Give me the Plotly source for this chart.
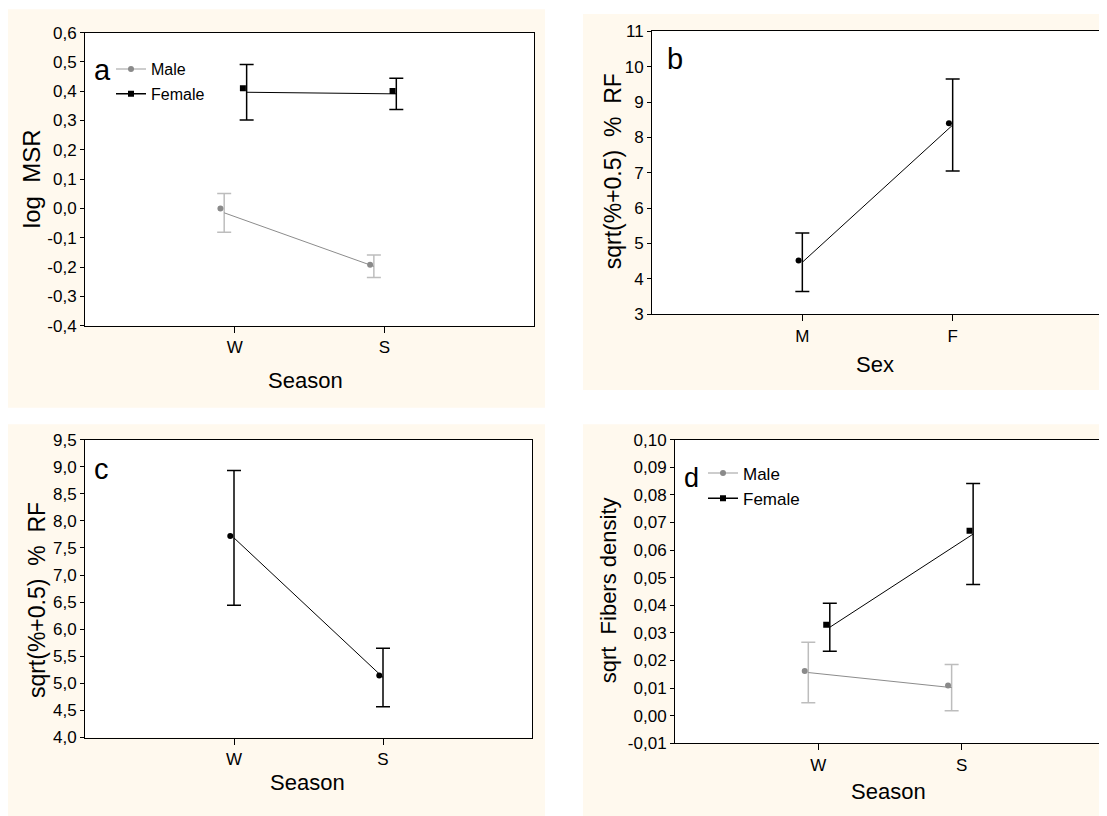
import plotly.graph_objects as go

# ---------------- data ----------------
season_labels = ["W", "S"]
sex_labels = ["M", "F"]

# panel a : log MSR
a_male_mean = [0.000, -0.192]
a_male_lo = [-0.081, -0.236]
a_male_hi = [0.051, -0.159]
a_fem_mean = [0.410, 0.401]
a_fem_lo = [0.302, 0.338]
a_fem_hi = [0.491, 0.444]
a_yticks = [0.6, 0.5, 0.4, 0.3, 0.2, 0.1, 0.0, -0.1, -0.2, -0.3, -0.4]
a_yticktext = ["0,6", "0,5", "0,4", "0,3", "0,2", "0,1", "0,0", "-0,1", "-0,2", "-0,3", "-0,4"]

# panel b : sqrt(%+0.5) % RF by sex
b_mean = [4.52, 8.40]
b_lo = [3.64, 7.05]
b_hi = [5.30, 9.65]
b_yticks = [3, 4, 5, 6, 7, 8, 9, 10, 11]
b_yticktext = ["3", "4", "5", "6", "7", "8", "9", "10", "11"]

# panel c : sqrt(%+0.5) % RF by season
c_mean = [7.72, 5.145]
c_lo = [6.44, 4.57]
c_hi = [8.93, 5.65]
c_yticks = [4.0, 4.5, 5.0, 5.5, 6.0, 6.5, 7.0, 7.5, 8.0, 8.5, 9.0, 9.5]
c_yticktext = ["4,0", "4,5", "5,0", "5,5", "6,0", "6,5", "7,0", "7,5", "8,0", "8,5", "9,0", "9,5"]

# panel d : sqrt Fibers density
d_male_mean = [0.0162, 0.0110]
d_male_lo = [0.0047, 0.0018]
d_male_hi = [0.0266, 0.0186]
d_fem_mean = [0.0330, 0.0670]
d_fem_lo = [0.0234, 0.0475]
d_fem_hi = [0.0407, 0.0841]
d_yticks = [-0.01, 0.0, 0.01, 0.02, 0.03, 0.04, 0.05, 0.06, 0.07, 0.08, 0.09, 0.10]
d_yticktext = ["-0,01", "0,00", "0,01", "0,02", "0,03", "0,04", "0,05", "0,06", "0,07", "0,08", "0,09", "0,10"]

# ---------------- style ----------------
W, H = 1107, 816
OX, OY = 8, 8          # page body margin: figure starts 8px in from the window corner
FONT = "Liberation Sans, Arial, sans-serif"
CREAM = "#fff9ee"
MALE_LINE = "#8c8c8c"
MALE_ERR = "#bdbdbd"
MALE_MARK = "#8a8a8a"
BLACK = "#000000"
MALE_OFF = -0.07
FEM_OFF = 0.08
MARK_SHIFT = -0.025

fig = go.Figure()


def mid(lo, hi):
    return [(l + h) / 2 for l, h in zip(lo, hi)]


def add_series(xa, ya, cats, off, mean, lo, hi, line_col, err_col, mark_col, symbol):
    xs = [i + 1 + off for i in range(len(cats))]
    m = mid(lo, hi)
    fig.add_trace(go.Scatter(
        x=xs, y=m, mode="lines", xaxis=xa, yaxis=ya, showlegend=False,
        line=dict(color=line_col, width=1),
        error_y=dict(type="data", symmetric=False,
                     array=[h - c for h, c in zip(hi, m)],
                     arrayminus=[c - l for l, c in zip(lo, m)],
                     color=err_col, thickness=1.5, width=7),
        hoverinfo="skip"))
    fig.add_trace(go.Scatter(
        x=[x + MARK_SHIFT for x in xs], y=mean, mode="markers", xaxis=xa, yaxis=ya,
        showlegend=False, marker=dict(color=mark_col, size=6, symbol=symbol)))


# panel a
add_series("x", "y", season_labels, MALE_OFF, a_male_mean, a_male_lo, a_male_hi,
           MALE_LINE, MALE_ERR, MALE_MARK, "circle")
add_series("x", "y", season_labels, FEM_OFF, a_fem_mean, a_fem_lo, a_fem_hi,
           BLACK, BLACK, BLACK, "square")
# panel b
add_series("x2", "y2", sex_labels, 0.0, b_mean, b_lo, b_hi, BLACK, BLACK, BLACK, "circle")
# panel c
add_series("x3", "y3", season_labels, 0.0, c_mean, c_lo, c_hi, BLACK, BLACK, BLACK, "circle")
# panel d
add_series("x4", "y4", season_labels, MALE_OFF, d_male_mean, d_male_lo, d_male_hi,
           MALE_LINE, MALE_ERR, MALE_MARK, "circle")
add_series("x4", "y4", season_labels, FEM_OFF, d_fem_mean, d_fem_lo, d_fem_hi,
           BLACK, BLACK, BLACK, "square")

# legend entries
for lg, xa, ya in (("legend", "x", "y"), ("legend2", "x4", "y4")):
    fig.add_trace(go.Scatter(x=[None], y=[None], mode="lines+markers", name="Male",
                             xaxis=xa, yaxis=ya, legend=lg, legendgroup=lg + "m",
                             line=dict(color=MALE_ERR, width=1.5),
                             marker=dict(color=MALE_MARK, size=6, symbol="circle")))
    fig.add_trace(go.Scatter(x=[None], y=[None], mode="lines+markers", name="Female",
                             xaxis=xa, yaxis=ya, legend=lg, legendgroup=lg + "f",
                             line=dict(color=BLACK, width=1.5),
                             marker=dict(color=BLACK, size=6, symbol="square")))


# ---------------- layout ----------------
def px_x(v):
    return (v - OX) / W


def px_y(v):
    return 1 - (v - OY) / H


panels = {
    1: dict(xd=[85, 534], yd=[24, 324], yr=[-0.4, 0.6], yt=a_yticks, ytt=a_yticktext, cats=season_labels),
    2: dict(xd=[652, 1103], yd=[22.7, 312.3], yr=[3, 11], yt=b_yticks, ytt=b_yticktext, cats=sex_labels),
    3: dict(xd=[85, 532], yd=[440.7, 745.7], yr=[4.0, 9.5], yt=c_yticks, ytt=c_yticktext, cats=season_labels),
    4: dict(xd=[675, 1105], yd=[440.7, 751.7], yr=[-0.01, 0.10], yt=d_yticks, ytt=d_yticktext, cats=season_labels),
}

layout = dict(
    width=W, height=H, margin=dict(l=0, r=0, t=0, b=0),
    paper_bgcolor="white", plot_bgcolor="white",
    font=dict(family=FONT, size=17, color="black"),
    hovermode=False,
)
shapes = []
for n, p in panels.items():
    s = "" if n == 1 else str(n)
    xdom = [px_x(p["xd"][0]), px_x(p["xd"][1])]
    ydom = [px_y(p["yd"][1]), px_y(p["yd"][0])]
    tickvals_x = [i + 1 for i in range(len(p["cats"]))]
    layout["xaxis" + s] = dict(
        domain=xdom, anchor="y" + s, range=[0, 3], tickvals=tickvals_x, ticktext=p["cats"],
        showline=True, linecolor="black", linewidth=1, mirror=True,
        ticks="outside", ticklen=6, tickcolor="black", showgrid=False, zeroline=False,
        tickfont=dict(size=17), fixedrange=True)
    layout["yaxis" + s] = dict(
        domain=ydom, anchor="x" + s, range=p["yr"], tickvals=p["yt"], ticktext=p["ytt"],
        showline=True, linecolor="black", linewidth=1, mirror=True,
        ticks="outside", ticklen=4, tickcolor="black", showgrid=False, zeroline=False,
        tickfont=dict(size=17), fixedrange=True)
    # inward ticks on right / top
    m = str(n + 4)
    layout["xaxis" + m] = dict(
        overlaying="x" + s, anchor="y" + s, side="top", range=[0, 3], tickvals=tickvals_x,
        showticklabels=False, showline=False, ticks="inside", ticklen=4, tickcolor="black",
        showgrid=False, zeroline=False, fixedrange=True)
    layout["yaxis" + m] = dict(
        overlaying="y" + s, anchor="x" + s, side="right", range=p["yr"], tickvals=p["yt"],
        showticklabels=False, showline=False, ticks="inside", ticklen=4, tickcolor="black",
        showgrid=False, zeroline=False, fixedrange=True)
    shapes.append(dict(type="rect", xref="x" + s + " domain", yref="y" + s + " domain",
                       x0=0, x1=1, y0=0, y1=1, fillcolor="white", line=dict(width=0),
                       layer="below"))

# cream panel backgrounds (paper) first so plot rectangles sit on top
cream = []
for x0, x1, y0, y1 in ((7, 545, 0, 408), (583, 1120, 5, 390), (7, 545, 425, 830), (583, 1120, 425, 830)):
    cream.append(dict(type="rect", xref="paper", yref="paper",
                      x0=px_x(x0), x1=px_x(x1), y0=px_y(y1), y1=px_y(y0),
                      fillcolor=CREAM, line=dict(width=0), layer="below"))
layout["shapes"] = cream + shapes

layout["legend"] = dict(x=px_x(111), y=px_y(44), xanchor="left", yanchor="top",
                        bgcolor="rgba(0,0,0,0)", font=dict(size=16), tracegroupgap=1,
                        itemwidth=30)
layout["legend2"] = dict(x=px_x(703), y=px_y(457), xanchor="left", yanchor="top",
                         bgcolor="rgba(0,0,0,0)", font=dict(size=17), tracegroupgap=0,
                         itemwidth=30)

ann = []


def text(x, y, t, size, angle=0):
    ann.append(dict(x=px_x(x), y=px_y(y), xref="paper", yref="paper", text=t,
                    showarrow=False, textangle=angle, xanchor="center", yanchor="middle",
                    font=dict(size=size, family=FONT, color="black")))


# panel letters
text(102, 62, "a", 29)
text(675, 51, "b", 29)
text(101, 471, "c", 29)
text(691, 480, "d", 27)
# axis titles
text(31, 174, "log  MSR", 24, -90)
text(305, 380, "Season", 22)
text(613, 166, "sqrt(%+0.5)  %  RF", 23, -90)
text(875, 364, "Sex", 22)
text(37, 605, "sqrt(%+0.5)  %  RF", 23, -90)
text(307, 792, "Season", 22)
text(608, 595, "sqrt  Fibers density", 22, -90)
text(888, 801, "Season", 22)
layout["annotations"] = ann

fig.update_layout(**layout)
fig.write_html("out.html")
